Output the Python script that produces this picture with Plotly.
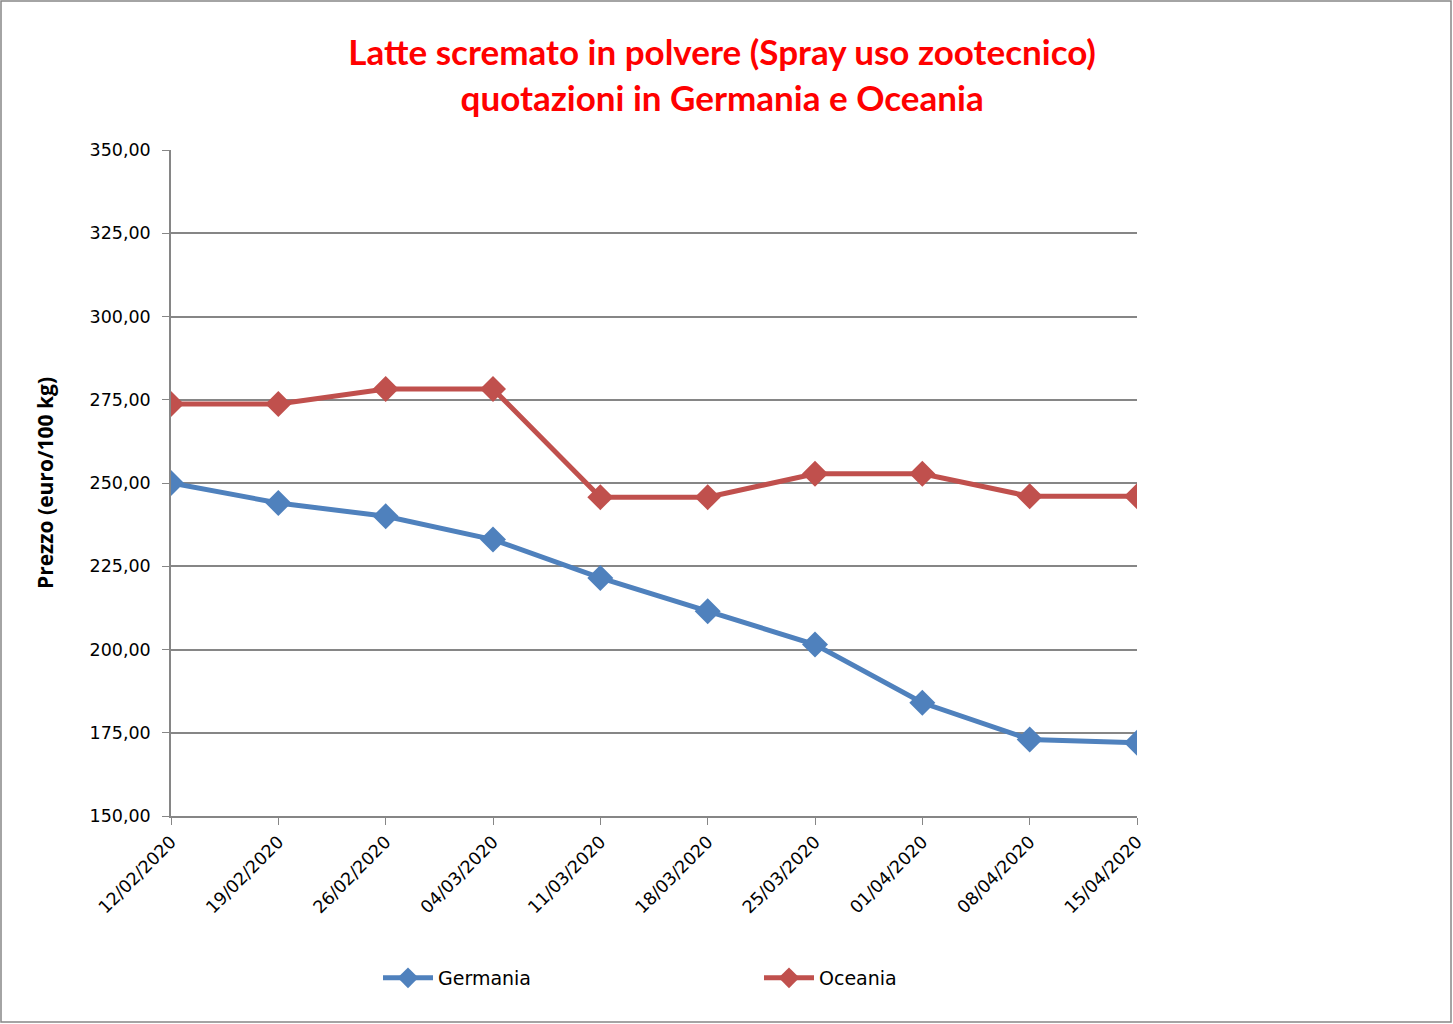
import plotly.graph_objects as go

dates = ["12/02/2020", "19/02/2020", "26/02/2020", "04/03/2020", "11/03/2020",
         "18/03/2020", "25/03/2020", "01/04/2020", "08/04/2020", "15/04/2020"]
germania = [250.0, 244.0, 240.0, 233.0, 221.5, 211.5, 201.5, 184.0, 173.0, 172.0]
oceania = [273.75, 273.75, 278.25, 278.25, 245.75, 245.75, 252.75, 252.75, 246.0, 246.0]
y_ticks = [150, 175, 200, 225, 250, 275, 300, 325, 350]

W, H = 1453, 1024
L, R, T, B = 171, 1137, 150, 816
pw, ph = R - L, B - T

fig = go.Figure()
fig.add_trace(go.Scatter(
    x=list(range(len(dates))), y=germania, name="Germania", mode="lines+markers",
    line=dict(color="#4F81BD", width=5),
    marker=dict(symbol="diamond", size=20, color="#4F81BD")))
fig.add_trace(go.Scatter(
    x=list(range(len(dates))), y=oceania, name="Oceania", mode="lines+markers",
    line=dict(color="#C0504D", width=5),
    marker=dict(symbol="diamond", size=20, color="#C0504D")))

tick_font = "DejaVu Sans, sans-serif"
title_font = "Lato, Open Sans, sans-serif"

fig.update_layout(
    width=W, height=H,
    margin=dict(l=L, r=W - R, t=T, b=H - B, autoexpand=False),
    paper_bgcolor="white", plot_bgcolor="white",
    separators=",.",
    font=dict(family=tick_font, color="black", size=17),
    title=dict(
        text="<b>Latte scremato in polvere (Spray uso zootecnico)<br>quotazioni in Germania e Oceania</b>",
        x=0.497, xref="container", xanchor="center",
        y=1 - 65 / H, yref="container", yanchor="middle",
        font=dict(family=title_font, size=35, color="#FF0000")),
    showlegend=True,
    legend=dict(orientation="h", x=(378 - L) / pw, xanchor="left",
                y=(B - 978) / ph, yanchor="middle",
                entrywidth=316, entrywidthmode="pixels",
                font=dict(size=19, family=tick_font), itemwidth=50,
                bgcolor="rgba(0,0,0,0)"),
    xaxis=dict(
        range=[0, len(dates) - 1], tickmode="array",
        tickvals=list(range(len(dates))), ticktext=dates,
        tickangle=-45, ticks="outside", ticklen=7, tickcolor="#868686",
        showline=True, linecolor="#868686", linewidth=1.5,
        showgrid=False, zeroline=False,
        tickfont=dict(size=17.5, family=tick_font)),
    yaxis=dict(
        range=[150, 350], tickmode="array", tickvals=y_ticks,
        tickformat=".2f", ticks="outside", ticklen=7, tickcolor="#868686",
        ticklabelstandoff=8,
        showline=True, linecolor="#868686", linewidth=1.5,
        showgrid=True, gridcolor="#868686", gridwidth=1.5, zeroline=False,
        tickfont=dict(size=17.5, family=tick_font),
        title=dict(text="<b>Prezzo (euro/100 kg)</b>", standoff=30,
                   font=dict(size=21, family="Open Sans, sans-serif"))),
)

fig.add_shape(type="rect", xref="paper", yref="paper",
              x0=(1 - L) / pw, x1=(W - 2 - L) / pw,
              y0=(B - (H - 2)) / ph, y1=(B - 1) / ph,
              line=dict(color="#868686", width=1.5), fillcolor="rgba(0,0,0,0)",
              layer="below")

fig.write_html("out.html", config={"displayModeBar": False},
               post_script="document.body.style.margin='0px';")
